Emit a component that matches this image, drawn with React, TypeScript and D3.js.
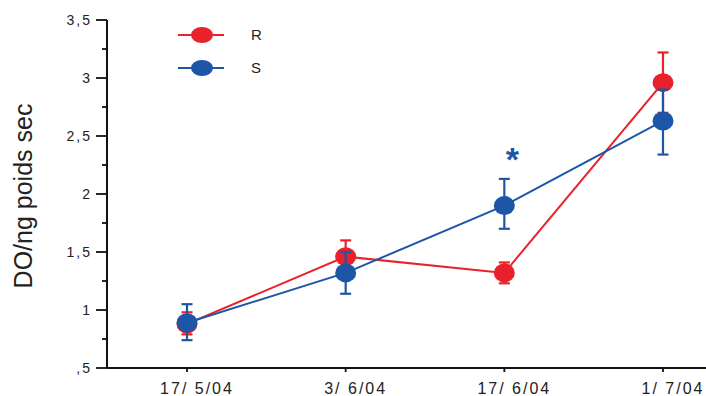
import React from "react";
import * as d3 from "d3";

const categories = ["17/ 5/04", "3/ 6/04", "17/ 6/04", "1/ 7/04"];
const rMean = [0.88, 1.46, 1.32, 2.96];
const rLow = [0.79, 1.31, 1.23, 2.7];
const rHigh = [0.98, 1.6, 1.41, 3.22];
const sMean = [0.89, 1.32, 1.9, 2.63];
const sLow = [0.74, 1.14, 1.7, 2.34];
const sHigh = [1.05, 1.5, 2.13, 2.9];
const yTicks = [0.5, 1, 1.5, 2, 2.5, 3, 3.5];
const yTickLabels = [",5", "1", "1,5", "2", "2,5", "3", "3,5"];
const yMinorTicks = [0.75, 1.25, 1.75, 2.25, 2.75, 3.25];
const seriesNames = ["R", "S"];
const significantIndex = 2;

const RED = "#e8212b";
const BLUE = "#1d56a6";
const FONT = "'Liberation Sans', Arial, sans-serif";

export default function App() {
  const W = 706, H = 396;
  const x0 = 107, yBase = 368;
  const x = d3.scalePoint<string>().domain(categories).range([187, 663]);
  const y = d3.scaleLinear().domain([0.5, 3.5]).range([yBase, 20]);
  const line = d3.line<number>().x((_, i) => x(categories[i])!).y((v) => y(v));

  const series = [
    { name: seriesNames[0], color: RED, mean: rMean, low: rLow, high: rHigh },
    { name: seriesNames[1], color: BLUE, mean: sMean, low: sLow, high: sHigh },
  ];

  return (
    <svg width={W} height={H} style={{ position: "absolute", left: 0, top: 0, background: "#fff" }} fontFamily={FONT}>
      {/* axes */}
      <line x1={x0} x2={x0} y1={y(3.5)} y2={yBase} stroke="#111" strokeWidth={2} />
      <line x1={x0} x2={W} y1={yBase} y2={yBase} stroke="#111" strokeWidth={2} />
      {yTicks.map((t, i) => (
        <g key={t}>
          <line x1={x0 - 11} x2={x0} y1={y(t)} y2={y(t)} stroke="#111" strokeWidth={1.8} />
          <text x={92} y={y(t)} dy="0.36em" textAnchor="end" fontSize={14} letterSpacing={2} fill="#222">
            {yTickLabels[i]}
          </text>
        </g>
      ))}
      {yMinorTicks.map((t) => (
        <line key={t} x1={x0 - 5} x2={x0} y1={y(t)} y2={y(t)} stroke="#111" strokeWidth={1.8} />
      ))}
      {categories.map((c) => (
        <g key={c}>
          <line x1={x(c)} x2={x(c)} y1={yBase} y2={yBase + 4} stroke="#111" strokeWidth={1.8} />
          <text x={x(c)! + 10} y={394} textAnchor="middle" fontSize={16} letterSpacing={2} fill="#222">
            {c}
          </text>
        </g>
      ))}
      <text transform={`translate(32,196) rotate(-90)`} textAnchor="middle" fontSize={25} fill="#222">
        DO/ng poids sec
      </text>

      {/* series */}
      {series.map((s) => (
        <g key={s.name}>
          <path d={line(s.mean)!} fill="none" stroke={s.color} strokeWidth={2} />
          {s.mean.map((m, i) => {
            const cx = x(categories[i])!;
            return (
              <g key={i}>
                <ellipse cx={cx} cy={y(m)} rx={10.5} ry={9.5} fill={s.color} />
                <line x1={cx} x2={cx} y1={y(s.low[i])} y2={y(s.high[i])} stroke={s.color} strokeWidth={2.2} />
                <line x1={cx - 5.5} x2={cx + 5.5} y1={y(s.low[i])} y2={y(s.low[i])} stroke={s.color} strokeWidth={2.2} />
                <line x1={cx - 5.5} x2={cx + 5.5} y1={y(s.high[i])} y2={y(s.high[i])} stroke={s.color} strokeWidth={2.2} />
              </g>
            );
          })}
        </g>
      ))}

      <text x={x(categories[significantIndex])! + 8} y={y(sHigh[significantIndex]) - 8} textAnchor="middle" fontSize={34} fontWeight="bold" fill={BLUE}>
        *
      </text>

      {/* legend */}
      {series.map((s, i) => (
        <g key={s.name} transform={`translate(0,${35 + i * 33})`}>
          <line x1={178} x2={224} y1={0} y2={0} stroke={s.color} strokeWidth={2} />
          <ellipse cx={202} cy={0} rx={11} ry={8} fill={s.color} />
          <text x={251} y={0} dy="0.36em" fontSize={15} fill="#222">
            {s.name}
          </text>
        </g>
      ))}
    </svg>
  );
}
